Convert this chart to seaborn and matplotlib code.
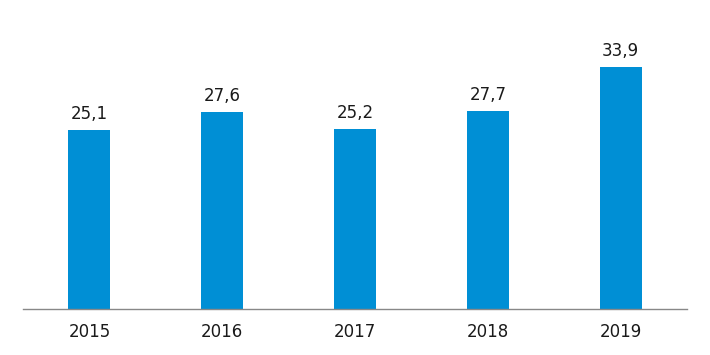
import matplotlib
matplotlib.use("Agg")
import matplotlib.pyplot as plt
import seaborn as sns
import pandas as pd

years = ["2015", "2016", "2017", "2018", "2019"]
values = [25.1, 27.6, 25.2, 27.7, 33.9]
value_labels = ["25,1", "27,6", "25,2", "27,7", "33,9"]

sns.set_style("white")
plt.rcParams["font.family"] = ["DejaVu Sans"]

df = pd.DataFrame({"year": years, "value": values})

fig = plt.figure(figsize=(7.1, 3.55), dpi=100)
ax = fig.add_axes([0.0324, 0.1296, 0.9352, 0.8044])
sns.barplot(data=df, x="year", y="value", color="#008FD5", saturation=1,
            width=0.317, linewidth=0, ax=ax)
ax.set_xlim(-0.5, 4.5)
ax.set_ylim(0, 40)
ax.bar_label(ax.containers[0], labels=value_labels, padding=5,
             fontsize=12, color="#1a1a1a")
for s in ["top", "right", "left"]:
    ax.spines[s].set_visible(False)
ax.spines["bottom"].set_color("#888888")
ax.spines["bottom"].set_linewidth(1)
ax.set_yticks([])
ax.set_xlabel("")
ax.set_ylabel("")
ax.tick_params(axis="x", length=0, pad=10, labelsize=12, labelcolor="#1a1a1a")
fig.savefig("out.png", dpi=100)
